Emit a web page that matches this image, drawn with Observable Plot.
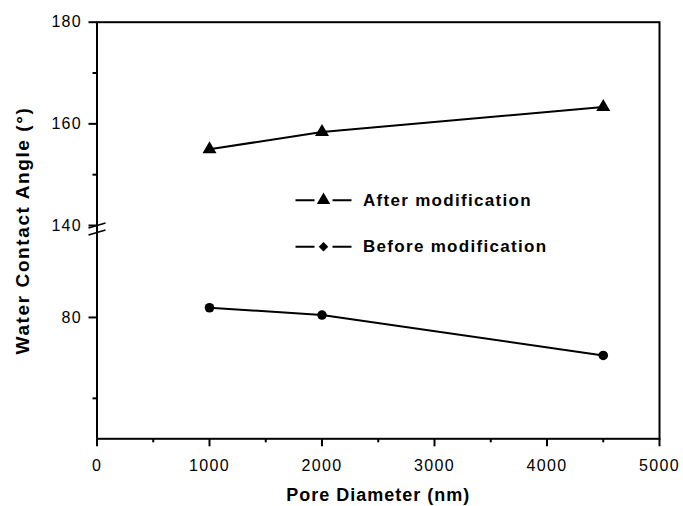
<!DOCTYPE html>
<html>
<head>
<meta charset="utf-8">
<script src="https://cdn.jsdelivr.net/npm/d3@7"></script>
<script src="https://cdn.jsdelivr.net/npm/@observablehq/plot@0.6"></script>
<style>
  body { margin: 0; background: #fff; }
  svg text { letter-spacing: 1.3px; }
</style>
</head>
<body>
<div id="chart"></div>
<script>
// ---- data ----
const poreDiameter = [1000, 2000, 4500];
const afterAngle = [155.0, 158.4, 163.3];
const beforeAngle = [81.2, 80.3, 75.3];
const seriesNames = ["After modification", "Before modification"];
const xTicks = [0, 1000, 2000, 3000, 4000, 5000];
const xMinorTicks = [500, 1500, 2500, 3500, 4500];
const yTicks = [80, 140, 160, 180];
const yMinorTicks = [70, 150, 170];
const yDomain = [65, 90.5, 140, 180];   // broken axis: lower segment 65–90.5, upper 140–180
const axisBreak = [140, 90.5];
const xTitle = "Pore Diameter (nm)";
const yTitle = "Water Contact Angle (°)";

// ---- table ----
const seriesValues = [afterAngle, beforeAngle];
const rows = seriesNames.flatMap((s, i) =>
  poreDiameter.map((x, j) => ({ series: s, x, y: seriesValues[i][j] })));

const symbols = { "After modification": "triangle", "Before modification": "circle" };
const markerR = { "After modification": 5.2, "Before modification": 4.8 };
const legendSymbols = { "After modification": "triangle", "Before modification": "diamond2" };

const slash = {
  draw(ctx, size) {
    const r = Math.sqrt(size / Math.PI);
    ctx.moveTo(-r, r * 0.3);
    ctx.lineTo(r, -r * 0.3);
  }
};
const legendLine = {
  draw(ctx) {
    ctx.moveTo(-28, 0); ctx.lineTo(-9, 0);
    ctx.moveTo(9, 0); ctx.lineTo(28, 0);
  }
};

const legendMarks = seriesNames.flatMap((s, i) => [
  Plot.dot([s], { frameAnchor: "top-left", dx: 226.5, dy: 178 + 46.5 * i, symbol: legendLine, r: 1, fill: "none", stroke: "black", strokeWidth: 2 }),
  Plot.dot([s], { frameAnchor: "top-left", dx: 226.5, dy: 178 + 46.5 * i, symbol: legendSymbols[s], r: i === 0 ? 5 : 4.3, fill: "black", stroke: "none" }),
  Plot.text([s], { frameAnchor: "top-left", dx: 266, dy: 178 + 46.5 * i, text: d => d, textAnchor: "start", lineAnchor: "middle", fontWeight: "bold", fontSize: 17, fill: "black" })
]);

const dataDots = seriesNames.map(s =>
  Plot.dot(rows.filter(d => d.series === s), { x: "x", y: "y", symbol: symbols[s], r: markerR[s], fill: "black", stroke: "none" }));

const chart = Plot.plot({
  width: 683,
  height: 506,
  marginLeft: 96.5,
  marginRight: 24,
  marginTop: 21.7,
  marginBottom: 67.7,
  style: { fontFamily: "'Liberation Sans', Arial, sans-serif", background: "white", color: "black" },
  x: { domain: [0, 5000] },
  y: { type: "linear", domain: yDomain, range: [438.3, 232, 225, 21.7] },
  marks: [
    Plot.frame({ stroke: "black", strokeWidth: 2 }),
    Plot.axisX({ ticks: xTicks, tickSize: 8, tickPadding: 13, tickFormat: d3.format("d"), fontSize: 16, strokeWidth: 2, label: null }),
    Plot.axisX({ ticks: xMinorTicks, tickSize: 4, tickFormat: () => "", strokeWidth: 2, label: null }),
    Plot.axisY({ ticks: yTicks, tickSize: 8, tickPadding: 7, tickFormat: d3.format("d"), fontSize: 16, strokeWidth: 2, label: null }),
    Plot.axisY({ ticks: yMinorTicks, tickSize: 4, tickFormat: () => "", strokeWidth: 2, label: null }),
    Plot.dot(axisBreak, { y: d => d, frameAnchor: "left", symbol: slash, r: 8.5, fill: "none", stroke: "black", strokeWidth: 1.6 }),
    Plot.line(rows, { x: "x", y: "y", z: "series", stroke: "black", strokeWidth: 2 }),
    ...dataDots,
    ...legendMarks,
    Plot.text([yTitle], { frameAnchor: "left", dx: -74, rotate: -90, text: d => d, textAnchor: "middle", lineAnchor: "middle", fontWeight: "bold", fontSize: 19, fill: "black" }),
    Plot.text([xTitle], { frameAnchor: "bottom", dy: 56, text: d => d, textAnchor: "middle", lineAnchor: "middle", fontWeight: "bold", fontSize: 18, fill: "black" })
  ]
});
for (const t of chart.querySelectorAll("text")) {
  if (t.textContent === yTitle) t.style.letterSpacing = "1.6px";
  if (t.textContent === xTitle) t.style.letterSpacing = "1px";
}
document.getElementById("chart").append(chart);
</script>
</body>
</html>
